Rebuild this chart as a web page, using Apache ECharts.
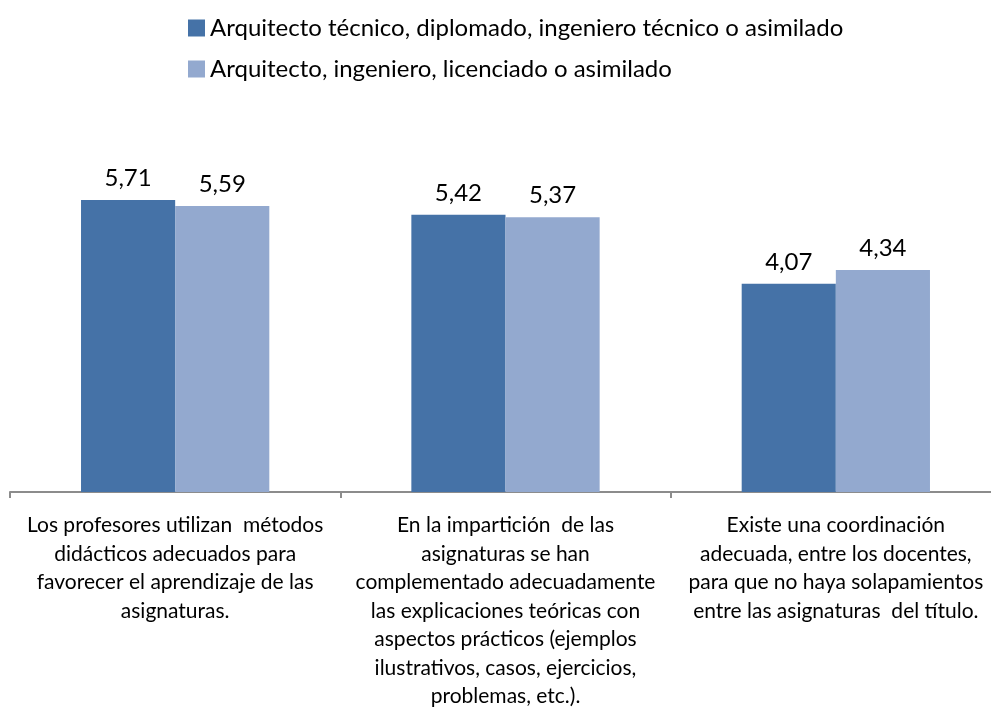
<!DOCTYPE html>
<html>
<head>
<meta charset="utf-8">
<script src="https://cdn.jsdelivr.net/npm/echarts@6/dist/echarts.min.js"></script>
<style>
  html, body { margin: 0; padding: 0; background: #fff; }
  #chart { width: 991px; height: 708px; }
</style>
</head>
<body>
<div id="chart"></div>
<script>
// categories (already wrapped like the original)
var categories = [
  "Los profesores utilizan  métodos\ndidácticos adecuados para\nfavorecer el aprendizaje de las\nasignaturas.",
  "En la impartición  de las\nasignaturas se han\ncomplementado adecuadamente\nlas explicaciones teóricas con\naspectos prácticos (ejemplos\nilustrativos, casos, ejercicios,\nproblemas, etc.).",
  "Existe una coordinación\nadecuada, entre los docentes,\npara que no haya solapamientos\nentre las asignaturas  del título."
];
var seriesNames = [
  "Arquitecto técnico, diplomado, ingeniero técnico o asimilado",
  "Arquitecto, ingeniero, licenciado o asimilado"
];
var tecnico = [5.71, 5.42, 4.07];
var superior = [5.59, 5.37, 4.34];

var colors = ["#4572A7", "#93A9CF"];
var fontFam = "Lato, 'Noto Sans', sans-serif";

var chart = echarts.init(document.getElementById("chart"));

function valLabel(p) {
  return p.value.toFixed(2).replace(".", ",");
}

var option = {
  animation: false,
  color: colors,
  legend: {
    orient: "vertical",
    left: 183,
    top: 11,
    icon: "rect",
    itemWidth: 17,
    itemHeight: 17,
    itemGap: 17,
    textStyle: { fontFamily: fontFam, fontSize: 24, color: "#000", lineHeight: 24 },
    data: seriesNames
  },
  grid: {
    left: 10,
    width: 991,
    top: 134,
    bottom: 216,
    containLabel: false,
    outerBoundsMode: "none"
  },
  xAxis: {
    type: "category",
    data: categories,
    axisLine: { lineStyle: { color: "#8c8c8c", width: 2 } },
    axisTick: { show: true, alignWithLabel: false, length: 6, lineStyle: { color: "#8c8c8c", width: 2 } },
    axisLabel: {
      interval: 0,
      margin: 19,
      fontFamily: fontFam,
      fontSize: 21,
      lineHeight: 28.5,
      color: "#000",
      align: "center"
    }
  },
  yAxis: {
    type: "value",
    min: 0,
    max: 7,
    show: false,
    splitLine: { show: false }
  },
  series: [
    {
      name: seriesNames[0],
      type: "bar",
      data: tecnico,
      barGap: "0%",
      barCategoryGap: "43%",
      label: {
        show: true, position: "top", distance: 10,
        fontFamily: fontFam, fontSize: 24, color: "#000",
        formatter: valLabel
      }
    },
    {
      name: seriesNames[1],
      type: "bar",
      data: superior,
      barGap: "0%",
      barCategoryGap: "43%",
      label: {
        show: true, position: "top", distance: 10,
        fontFamily: fontFam, fontSize: 24, color: "#000",
        formatter: valLabel
      }
    }
  ]
};

option && chart.setOption(option);
</script>
</body>
</html>
